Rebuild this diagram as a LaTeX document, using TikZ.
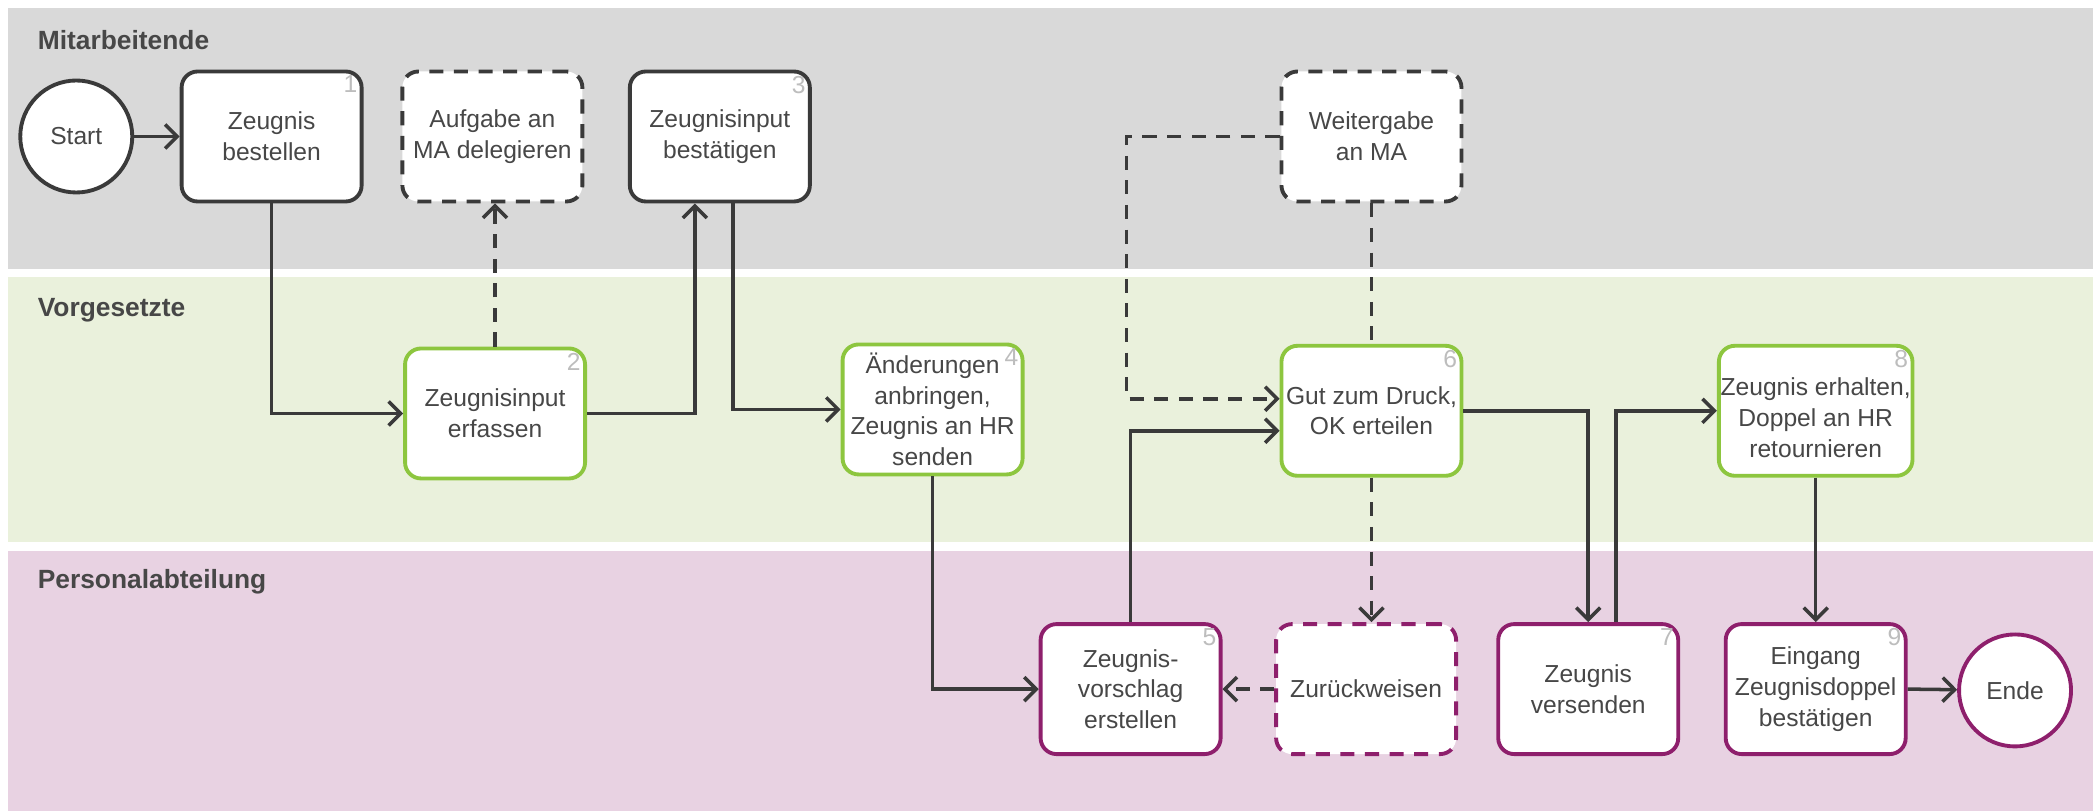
\documentclass[tikz,border=0pt]{standalone}
\usepackage{fontspec}
\setmainfont{Liberation Sans}
\usetikzlibrary{arrows.meta}
\tikzset{>={Straight Barb[length=1.2mm,width=2.4mm]}}

\definecolor{laneGray}{HTML}{D9D9D9}
\definecolor{laneGreen}{HTML}{EAF1DC}
\definecolor{lanePink}{HTML}{E8D2E2}
\definecolor{edgeGray}{HTML}{3A3A3A}
\definecolor{edgeGreen}{HTML}{8DC63F}
\definecolor{edgePurple}{HTML}{8E1F6C}
\definecolor{textGray}{HTML}{474747}
\definecolor{numGray}{HTML}{BDBDBD}

\begin{document}
\begin{tikzpicture}[
    x = 0.1338mm,
    y = -0.1338mm,
    font = \fontsize{7}{8.7}\selectfont,
    text = textGray,
    task/.style = {draw, fill = white, line width = 1.1pt, rounded corners = 1.6mm,
      align = center, inner sep = 0.5pt, minimum width = 18mm, minimum height = 13mm},
    employee/.style = {task, draw = edgeGray},
    boss/.style = {task, draw = edgeGreen},
    hr/.style = {task, draw = edgePurple},
    optional/.style = {dash pattern = on 4pt off 3pt},
    event/.style = {circle, draw, fill = white, line width = 1.1pt, minimum size = 11.2mm, inner sep = 0pt},
    num/.style = {anchor = north east, text = numGray, inner sep = 1.6pt},
    lane/.style = {anchor = west, font = \fontsize{7.5}{9}\selectfont\bfseries},
    flow/.style = {->, draw = edgeGray, line width = 1pt},
    flowdash/.style = {flow, optional}
  ]
    \useasboundingbox (0, 0) rectangle (1568, 606);
    % swim lanes
    \fill[laneGray] (6, 6) rectangle (1564, 201);
    \fill[laneGreen] (6, 207) rectangle (1564, 405);
    \fill[lanePink] (6, 412) rectangle (1564, 606);
    \node[lane] (lane_ma) at (19, 30) {Mitarbeitende};
    \node[lane] (lane_vg) at (19, 232) {Vorgesetzte};
    \node[lane] (lane_hr) at (19, 435) {Personalabteilung};

    % Mitarbeitende
    \node[event, draw = edgeGray] (start) at (57, 102) {Start};
    \node[employee] (task1) at (203, 102) {Zeugnis\\bestellen};
    \node[employee, optional] (delegate) at (368, 102) {Aufgabe an\\MA delegieren};
    \node[employee] (task3) at (538, 102) {Zeugnisinput\\bestätigen};
    \node[employee, optional] (forward) at (1025, 102) {Weitergabe\\an MA};

    % Vorgesetzte
    \node[boss] (task2) at (370, 309) {Zeugnisinput\\erfassen};
    \node[boss] (task4) at (697, 306) {Änderungen\\anbringen,\\Zeugnis an HR\\senden};
    \node[boss] (task6) at (1025, 307) {Gut zum Druck,\\OK erteilen};
    \node[boss] (task8) at (1357, 307) {\rule{0pt}{9pt}Zeugnis erhalten,\\Doppel an HR\\retournieren};

    % Personalabteilung
    \node[hr] (task5) at (845, 515) {Zeugnis-\\vorschlag\\erstellen};
    \node[hr, optional] (reject) at (1021, 515) {Zurückweisen};
    \node[hr] (task7) at (1187, 515) {Zeugnis\\versenden};
    \node[hr] (task9) at (1357, 515) {Eingang\\Zeugnisdoppel\\bestätigen};
    \node[event, draw = edgePurple] (finish) at (1506, 516) {Ende};

    % step numbers
    \node[num] (num1) at (task1.north east) {1};
    \node[num] (num2) at (task2.north east) {2};
    \node[num] (num3) at (task3.north east) {3};
    \node[num] (num4) at (task4.north east) {4};
    \node[num] (num5) at (task5.north east) {5};
    \node[num] (num6) at (task6.north east) {6};
    \node[num] (num7) at (task7.north east) {7};
    \node[num] (num8) at (task8.north east) {8};
    \node[num] (num9) at (task9.north east) {9};

    % connectors
    \draw[flow] (start) -- (task1);
    \draw[flow] (task1.south) |- (task2.west);
    \draw[flowdash] (task2.north) -- (task2.north |- delegate.south);
    \draw[flow] (task2.east) -| ([xshift = -2.5mm]task3.south);
    \draw[flow] ([xshift = 1.3mm]task3.south) |- (task4.west);
    \draw[flow] (task4.south) |- (task5.west);
    \draw[flow] (task5.north) |- ([yshift = -2mm]task6.west);
    \draw[flowdash] (forward.west) -| ([xshift = -0.4mm, yshift = 1.2mm]task5.north |- task6.west)
      -- ([yshift = 1.2mm]task6.west);
    \draw[flowdash, -] (forward.south) -- (task6.north);
    \draw[flowdash] (task6.south) -- (task6.south |- reject.north);
    \draw[flowdash] (reject.west) -- (task5.east);
    \draw[flow] (task6.east) -| (task7.north);
    \draw[flow] ([xshift = 2.8mm]task7.north) |- (task8.west);
    \draw[flow] (task8.south) -- (task9.north);
    \draw[flow] (task9.east) -- (finish);
  \end{tikzpicture}
\end{document}
